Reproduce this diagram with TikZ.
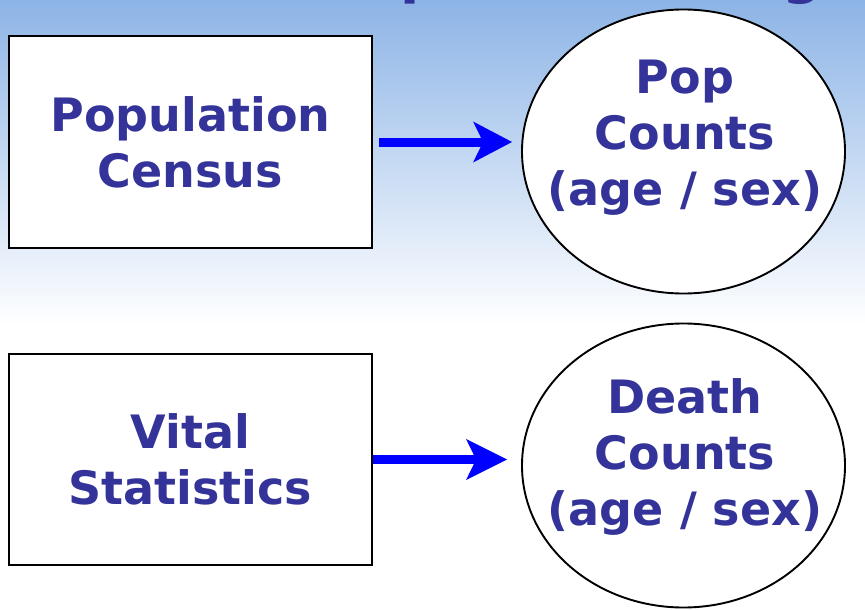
\documentclass[tikz,border=0pt]{standalone}
\usepackage{fontspec}
\setmainfont{DejaVu Sans}
\usetikzlibrary{shapes.geometric,calc}
\definecolor{txtblue}{RGB}{51,51,153}
\definecolor{skyblue}{RGB}{141,180,230}
\definecolor{arrblue}{RGB}{0,0,255}
\begin{document}
\begin{tikzpicture}[x=1pt,y=-1pt,
  lbl/.style={font=\fontsize{46}{56}\selectfont\bfseries, text=txtblue, align=center, inner sep=0pt},
  srcbox/.style={draw=black, line width=2pt, fill=white, minimum width=363pt, minimum height=211pt, inner sep=0pt, lbl},
  outell/.style={draw=black, line width=1.9pt, fill=white, ellipse, minimum width=323pt, minimum height=284pt, inner sep=0pt},
  shaft/.style={draw=arrblue, line width=9pt},
  arrhead/.style={fill=arrblue}
]
\useasboundingbox (0,0) rectangle (865,610);
\fill[white] (0,0) rectangle (865,610);
\shade[top color=skyblue, bottom color=white] (0,0) rectangle (865,325);
% title fragments cut by the top edge
\node[lbl, font=\fontsize{56}{60}\selectfont\bfseries, anchor=base west] (tp) at (400,-7) {p};
\node[lbl, font=\fontsize{56}{60}\selectfont\bfseries, anchor=base west] (tg) at (782,-7) {g};
% boxes
\node[srcbox] (census) at (190.5,142) {Population\\Census};
\node[srcbox] (vital) at (190.5,459.5) {Vital\\Statistics};
% ellipses
\node[outell] (pop) at (683.5,151.5) {};
\node[outell] (death) at (683.5,465.5) {};
\node[lbl] (poptxt) at (685,138) {Pop\\Counts\\(age / sex)};
\node[lbl] (deathtxt) at (685,457) {Death\\Counts\\(age / sex)};
% arrows
\coordinate (t1) at ($(pop.west |- census.east)+(-9,0)$);
\coordinate (t2) at ($(death.west |- vital.east)+(-14,0)$);
\draw[shaft] ([xshift=6pt]census.east) -- ($(t1)+(-26,0)$);
\fill[arrhead] (t1) -- ++(-39,-20.5) -- ++(10,20.5) -- ++(-10,20.5) -- cycle;
\draw[shaft] (vital.east) -- ($(t2)+(-28,0)$);
\fill[arrhead] (t2) -- ++(-41,-20.5) -- ++(10,20.5) -- ++(-10,20.5) -- cycle;
\end{tikzpicture}
\end{document}
